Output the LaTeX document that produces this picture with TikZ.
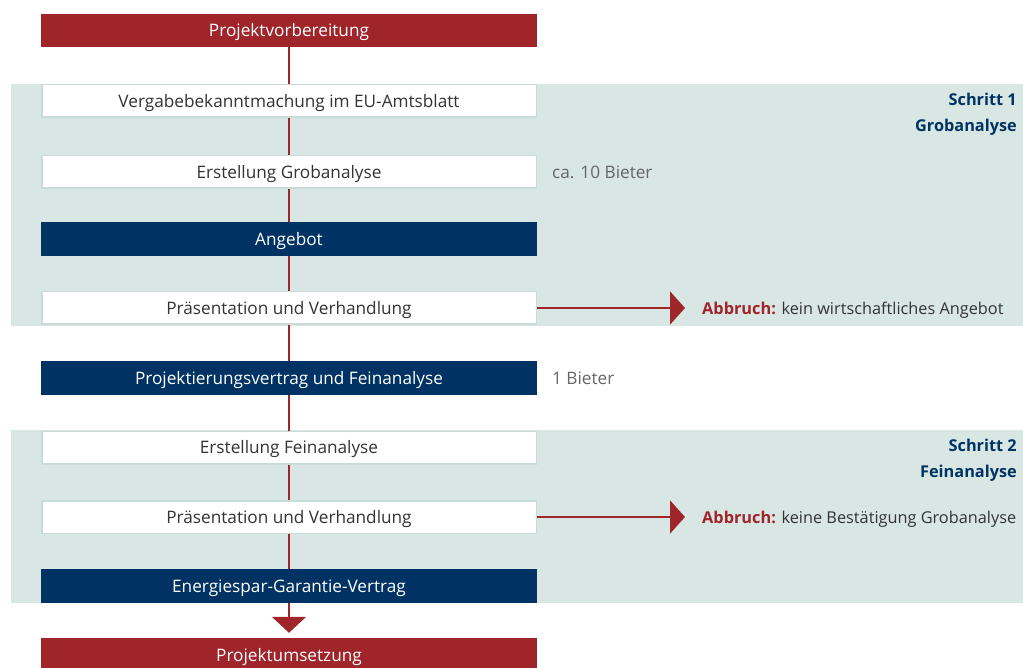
\documentclass[tikz,border=0pt]{standalone}
\usepackage{fontspec}
\setmainfont{Open Sans}
\usetikzlibrary{arrows.meta}

\definecolor{procred}{HTML}{A0252A}
\definecolor{procblue}{HTML}{003363}
\definecolor{bandbg}{HTML}{D9E7E4}
\definecolor{boxline}{HTML}{C8DCD7}
\definecolor{txtdark}{HTML}{333333}
\definecolor{txtgrey}{HTML}{666666}

\newcommand{\flowfont}{\fontsize{17.2}{20}\selectfont}
\newcommand{\sidefont}{\fontsize{16.3}{20}\selectfont}

\tikzset{
  base/.style={rectangle, minimum width=496pt, minimum height=34pt, inner sep=0pt,
    text height=12.3pt, text depth=0pt, font=\flowfont},
  redbox/.style={base, fill=procred, text=white},
  bluebox/.style={base, fill=procblue, text=white},
  whitebox/.style={base, fill=white, draw=boxline, line width=1.5pt,
    minimum width=494.5pt, minimum height=32.5pt, text=txtdark},
  note/.style={inner sep=0pt, anchor=west, text height=12.3pt, text depth=0pt,
    text=txtgrey, font=\flowfont},
  steplabel/.style={inner sep=0pt, anchor=east, align=right, text=procblue,
    font=\bfseries\fontsize{16.3}{26}\selectfont},
  cancel/.style={inner sep=0pt, anchor=west, text height=12pt, text depth=0pt,
    text=txtdark, font=\sidefont},
  flow/.style={draw=procred, line width=1.5pt},
  stoparrow/.style={draw=procred, line width=2pt,
    -{Triangle[width=33pt,length=15pt]}, shorten >=17pt},
  endarrow/.style={draw=procred, line width=1.5pt,
    -{Triangle[width=34pt,length=16pt]}, shorten >=5pt},
}

\begin{document}
\begin{tikzpicture}[x=1pt, y=-1pt]
\useasboundingbox (0,0) rectangle (1023,668);
\begin{scope}
\clip (0,0) rectangle (1023,668);

% phase backgrounds
\fill[bandbg] (11,84) rectangle (1023,326);
\fill[bandbg] (11,430) rectangle (1023,603);

% process steps
\node[redbox, minimum height=33pt] (p1) at (289,30.5) {Projektvorbereitung};
\node[whitebox] (b1) at (289,101)   {Vergabebekanntmachung im EU-Amtsblatt};
\node[whitebox] (b2) at (289,172)   {Erstellung Grobanalyse};
\node[bluebox]  (b3) at (289,239)   {Angebot};
\node[whitebox] (b4) at (289,308)   {Präsentation und Verhandlung};
\node[bluebox]  (b5) at (289,378)   {Projektierungsvertrag und Feinanalyse};
\node[whitebox] (b6) at (289,447.5) {Erstellung Feinanalyse};
\node[whitebox] (b7) at (289,517)   {Präsentation und Verhandlung};
\node[bluebox]  (b8) at (289,586)   {Energiespar-Garantie-Vertrag};
\node[redbox]   (p2) at (289,655)   {Projektumsetzung};

% connectors
\draw[flow] (p1) -- (b1);
\draw[flow] (b1) -- (b2);
\draw[flow] (b2) -- (b3);
\draw[flow] (b3) -- (b4);
\draw[flow] (b4) -- (b5);
\draw[flow] (b5) -- (b6);
\draw[flow] (b6) -- (b7);
\draw[flow] (b7) -- (b8);
\draw[endarrow] (b8) -- (p2);

% side notes
\node[note] (n1) at (552,172) {ca. 10 Bieter};
\node[note] (n2) at (552,378) {1 Bieter};

\node[steplabel] (s1) at (1017,114) {Schritt 1\\Grobanalyse};
\node[steplabel] (s2) at (1017,460) {Schritt 2\\Feinanalyse};

% cancellation exits
\node[cancel] (c1) at (702,308.5) {\textcolor{procred}{\bfseries Abbruch:} kein wirtschaftliches Angebot};
\node[cancel] (c2) at (702,517.5) {\textcolor{procred}{\bfseries Abbruch:} keine Bestätigung Grobanalyse};
\draw[stoparrow] (b4.east) -- (b4.east -| c1.west);
\draw[stoparrow] (b7.east) -- (b7.east -| c2.west);
\end{scope}
\end{tikzpicture}
\end{document}
